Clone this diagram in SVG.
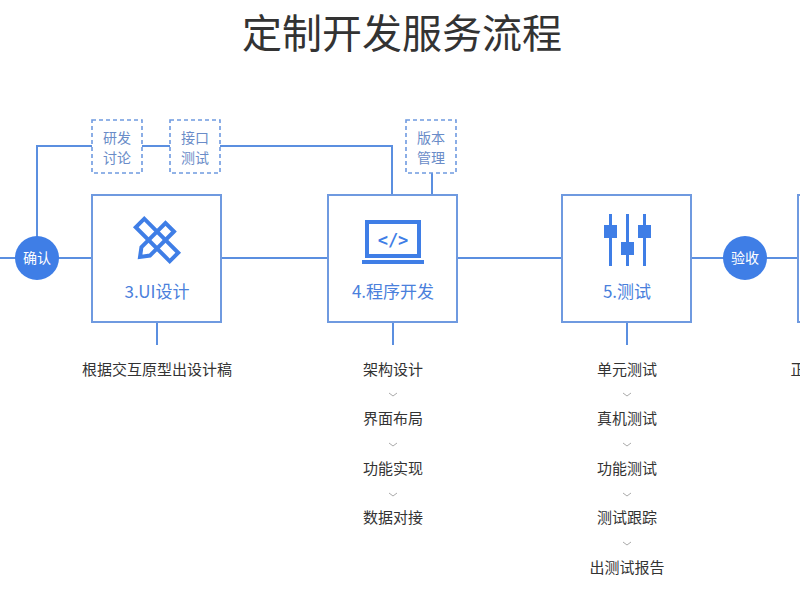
<svg xmlns="http://www.w3.org/2000/svg" width="800" height="600" viewBox="0 0 800 600">
<style>
.l{stroke:#5b8fe0;stroke-width:2;fill:none}
.box{fill:#fff;stroke:#6f9ae0;stroke-width:2}
.d{fill:#fff;stroke:#6f9ae0;stroke-width:1.6;stroke-dasharray:4 3}
.dt{font-family:"Noto Sans CJK SC",sans-serif;font-size:14px;fill:#6a8cc8;text-anchor:middle}
.bt{font-family:"Noto Sans CJK SC",sans-serif;font-size:17px;fill:#4a80dc;text-anchor:middle}
.t{font-family:"Noto Sans CJK SC",sans-serif;font-size:15px;fill:#333;text-anchor:middle}
.c{fill:#3f7ee6}
.ct{font-family:"Noto Sans CJK SC",sans-serif;font-size:14px;fill:#fff;text-anchor:middle}
.ch{stroke:#aaa;stroke-width:1;fill:none}
.i{fill:#3f7ee6}
</style>
<rect width="800" height="600" fill="#fff"/>
<text x="402" y="48" font-family="Noto Sans CJK SC,sans-serif" font-size="40" fill="#333" text-anchor="middle">定制开发服务流程</text>
<g id="connectors">
<path class="l" d="M0 258H800"/>
<path class="l" d="M37 258V146H92M142 146H170M220 146H392V195"/>
<path class="l" d="M432 173V195"/>
<path class="l" d="M157 322V345M393 322V345M627 322V345"/>
</g>
<g id="n-confirm"><circle class="c" cx="37" cy="258" r="22"/><text class="ct" x="37" y="263">确认</text></g>
<g id="n-rd"><rect class="d" x="92" y="120" width="50" height="53"/><text class="dt" x="117" y="143">研发</text><text class="dt" x="117" y="163">讨论</text></g>
<g id="n-api"><rect class="d" x="170" y="120" width="50" height="53"/><text class="dt" x="195" y="143">接口</text><text class="dt" x="195" y="163">测试</text></g>
<g id="n-ver"><rect class="d" x="406" y="120" width="50" height="53"/><text class="dt" x="431" y="143">版本</text><text class="dt" x="431" y="163">管理</text></g>
<g id="n-ui">
<rect class="box" x="92" y="195" width="129" height="127"/>
<g transform="translate(157,240)" fill="none" stroke="#3f7ee6" stroke-width="4">
<rect x="-24" y="-6" width="48" height="12" transform="rotate(45)"/>
<path d="M-18 -6 L16 -6 L24 0 L16 6 L-18 6Z" transform="rotate(135)"/>
</g>
<text class="bt" x="157" y="298">3.UI设计</text>
<text class="t" x="157" y="375">根据交互原型出设计稿</text>
</g>
<g id="n-dev">
<rect class="box" x="328" y="195" width="129" height="127"/>
<rect x="367" y="222" width="52" height="34" fill="none" stroke="#3f7ee6" stroke-width="4"/>
<rect x="362" y="260" width="62" height="4" class="i"/>
<text x="393" y="246" font-family="DejaVu Sans Mono,monospace" font-size="17" font-weight="bold" fill="#3f7ee6" text-anchor="middle">&lt;/&gt;</text>
<text class="bt" x="393" y="298">4.程序开发</text>
<text class="t" x="393" y="375">架构设计</text>
<text class="t" x="393" y="424">界面布局</text>
<text class="t" x="393" y="474">功能实现</text>
<text class="t" x="393" y="523">数据对接</text>
<path class="ch" d="M389 393l4 3l4-3M389 443l4 3l4-3M389 493l4 3l4-3"/>
</g>
<g id="n-test">
<rect class="box" x="562" y="195" width="129" height="127"/>
<g class="i">
<rect x="609" y="214" width="3" height="52"/><rect x="626" y="214" width="3" height="52"/><rect x="643" y="214" width="3" height="52"/>
<rect x="604" y="225" width="13" height="13"/><rect x="621" y="242" width="13" height="13"/><rect x="638" y="225" width="13" height="13"/>
</g>
<text class="bt" x="627" y="298">5.测试</text>
<text class="t" x="627" y="375">单元测试</text>
<text class="t" x="627" y="424">真机测试</text>
<text class="t" x="627" y="474">功能测试</text>
<text class="t" x="627" y="523">测试跟踪</text>
<text class="t" x="627" y="573">出测试报告</text>
<path class="ch" d="M623 393l4 3l4-3M623 443l4 3l4-3M623 493l4 3l4-3M623 542l4 3l4-3"/>
</g>
<g id="n-accept"><circle class="c" cx="745" cy="258" r="22"/><text class="ct" x="745" y="263">验收</text></g>
<g id="n-next"><rect class="box" x="798" y="195" width="20" height="127"/><text class="t" x="798" y="375">正</text></g>
</svg>
